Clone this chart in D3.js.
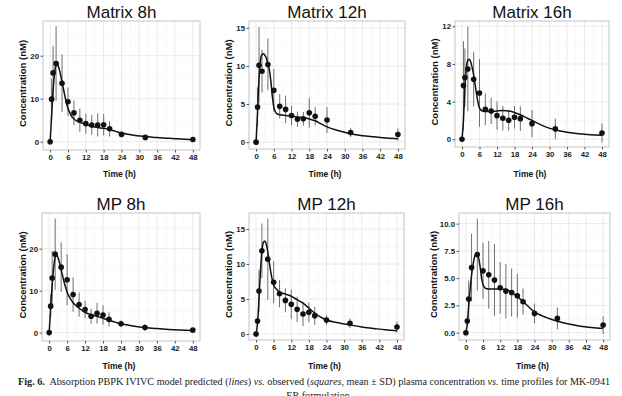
<!DOCTYPE html>
<html>
<head>
<meta charset="utf-8">
<script src="https://cdn.jsdelivr.net/npm/d3@7"></script>
<style>
  html, body { margin: 0; padding: 0; background: #fff; }
  svg { display: block; }
</style>
</head>
<body>
<svg id="chart" width="622" height="396"></svg>
<script>
// ---------------- DATA ----------------
const titles = ["Matrix 8h", "Matrix 12h", "Matrix 16h", "MP 8h", "MP 12h", "MP 16h"];
const obsTime = [0, 0.5, 1, 2, 4, 6, 8, 10, 12, 14, 16, 18, 20, 24, 32, 48];
const modelTime = [0, 0.5, 1, 1.5, 2, 2.5, 3, 3.5, 4, 4.5, 5, 5.5, 6, 7, 8, 10, 12, 14, 16, 18, 20, 22, 24, 28, 32, 36, 40, 44, 48];
const xTicks = [0, 6, 12, 18, 24, 30, 36, 42, 48];

const matrix8hMean  = [0, 9.9, 16, 18.2, 13.6, 9.3, 6.7, 5.0, 4.2, 3.9, 3.9, 3.95, 3.0, 1.7, 1.0, 0.5];
const matrix8hSD    = [0, 4.8, 6.3, 8.7, 6.7, 3.3, 2.9, 2.7, 2.3, 2.3, 2.7, 2.5, 1.8, 0.5, 0.5, 0.3];
const matrix8hModel = [0, 6, 12, 16, 17.8, 18, 17, 15.6, 13.8, 12.2, 10.5, 9.0, 7.8, 6.2, 5.3, 4.5, 4.0, 3.6, 3.3, 3.1, 2.8, 2.4, 2.0, 1.5, 1.2, 0.95, 0.8, 0.6, 0.45];

const matrix12hMean  = [0, 4.6, 10.1, 9.3, 10.2, 6.8, 4.7, 4.3, 3.5, 3.0, 3.06, 3.85, 3.4, 2.9, 1.27, 1.0];
const matrix12hSD    = [0, 2.6, 5.0, 2.8, 3.4, 2.8, 1.6, 1.8, 1.3, 1.0, 0.9, 1.95, 1.2, 1.7, 0.6, 0.8];
const matrix12hModel = [0, 4, 8.5, 10.8, 11.5, 11.6, 11.4, 11.0, 10.2, 9.5, 8.0, 6.0, 4.6, 3.75, 3.6, 3.5, 3.4, 3.3, 3.2, 3.05, 2.8, 2.4, 2.0, 1.5, 1.1, 0.85, 0.7, 0.55, 0.45];

const matrix16hMean  = [0, 5.7, 6.55, 7.47, 6.37, 4.92, 3.19, 3.0, 2.51, 2.23, 2.02, 2.34, 2.19, 1.66, 1.1, 0.67];
const matrix16hSD    = [0, 4.7, 3.1, 4.5, 2.9, 3.6, 1.7, 1.4, 1.5, 1.3, 1.1, 1.2, 1.3, 1.45, 1.1, 1.0];
const matrix16hModel = [0, 2, 5.5, 7.6, 8.4, 8.5, 8.2, 7.6, 6.8, 5.8, 4.8, 3.9, 3.3, 3.0, 2.95, 2.95, 3.0, 3.05, 3.0, 2.85, 2.6, 2.3, 2.0, 1.4, 1.0, 0.75, 0.58, 0.47, 0.42];

const mp8hMean  = [0, 6.3, 13.0, 18.7, 15.6, 12.6, 9.06, 6.7, 5.5, 3.9, 4.6, 4.2, 3.15, 2.1, 1.2, 0.6];
const mp8hSD    = [0, 2.8, 6.5, 8.5, 5.9, 6.1, 4.1, 2.9, 2.1, 1.8, 2.5, 2.3, 1.7, 0.8, 0.8, 0.4];
const mp8hModel = [0, 6, 11.5, 15.5, 18, 18.5, 17.8, 16.5, 15, 13.5, 12, 10.8, 9.6, 8.2, 7.1, 5.8, 4.8, 4.3, 3.9, 3.4, 2.9, 2.5, 2.1, 1.6, 1.2, 0.95, 0.75, 0.6, 0.45];

const mp12hMean  = [0, 1.86, 6.14, 11.9, 10.7, 7.4, 5.76, 4.8, 4.24, 3.52, 2.86, 3.1, 2.62, 2.0, 1.52, 1.0];
const mp12hSD    = [0, 0.6, 3.0, 3.9, 5.8, 3.0, 1.95, 1.7, 2.1, 1.8, 1.75, 1.4, 1.3, 0.7, 0.7, 0.8];
const mp12hModel = [0, 1.5, 5, 9, 11.8, 13.1, 13.3, 12.8, 11.7, 10.3, 8.9, 7.8, 7.0, 6.4, 6.0, 5.7, 5.4, 4.9, 4.4, 3.7, 3.0, 2.4, 2.0, 1.6, 1.3, 1.0, 0.8, 0.6, 0.48];

const mp16hMean  = [0, 1.07, 3.08, 5.98, 7.16, 5.67, 5.3, 4.82, 4.12, 3.81, 3.69, 3.38, 2.84, 1.77, 1.31, 0.7];
const mp16hSD    = [0, 0.4, 1.7, 3.1, 3.3, 2.56, 3.1, 3.3, 2.36, 2.5, 2.2, 2.0, 1.2, 0.9, 1.0, 0.8];
const mp16hModel = [0, 0.8, 2.5, 4.0, 5.3, 6.2, 6.9, 7.2, 7.2, 6.8, 6.0, 5.0, 4.4, 4.05, 4.0, 4.0, 4.0, 3.95, 3.7, 3.3, 2.85, 2.35, 1.9, 1.4, 1.05, 0.8, 0.6, 0.48, 0.4];

const yTicks8  = [0, 10, 20];
const yTicks12 = [0, 5, 10, 15];
const yTicks16m = [0, 4, 8, 12];
const yTicks16p = [0, 2.5, 5, 7.5, 10];

const xLabel = "Time (h)";
const yLabel = "Concentration (nM)";
const captionLine1 = [
  ["Fig. 6.", "bold", "normal"],
  ["\u00a0 Absorption PBPK IVIVC model predicted (", "normal", "normal"],
  ["lines", "normal", "italic"],
  [") ", "normal", "normal"],
  ["vs.", "normal", "italic"],
  [" observed (", "normal", "normal"],
  ["squares", "normal", "italic"],
  [", mean \u00b1 SD) plasma concentration ", "normal", "normal"],
  ["vs.", "normal", "italic"],
  [" time profiles for MK-0941", "normal", "normal"]
];
const captionLine2 = "ER formulation";

// ---------------- LAYOUT ----------------
const panels = [
  { title: titles[0], mean: matrix8hMean, sd: matrix8hSD, model: matrix8hModel, yDom: [-1.93, 28.07], yTicks: yTicks8, fmt: d3.format("d"),
    box: [43, 21, 200, 150], ylabX: 22 },
  { title: titles[1], mean: matrix12hMean, sd: matrix12hSD, model: matrix12hModel, yDom: [-0.9, 15.9], yTicks: yTicks12, fmt: d3.format("d"),
    box: [249, 21, 405, 149], ylabX: 228 },
  { title: titles[2], mean: matrix16hMean, sd: matrix16hSD, model: matrix16hModel, yDom: [-0.82, 12.56], yTicks: yTicks16m, fmt: d3.format("d"),
    box: [455, 21, 609, 147], ylabX: 434 },
  { title: titles[3], mean: mp8hMean, sd: mp8hSD, model: mp8hModel, yDom: [-2.0, 28.5], yTicks: yTicks8, fmt: d3.format("d"),
    box: [42, 213, 200, 341], ylabX: 22 },
  { title: titles[4], mean: mp12hMean, sd: mp12hSD, model: mp12hModel, yDom: [-0.86, 17.3], yTicks: yTicks12, fmt: d3.format("d"),
    box: [249, 213, 404, 340], ylabX: 228 },
  { title: titles[5], mean: mp16hMean, sd: mp16hSD, model: mp16hModel, yDom: [-0.67, 10.97], yTicks: yTicks16p, fmt: d3.format(".1f"),
    box: [459, 213, 610, 340], ylabX: 433 }
];

const svg = d3.select("#chart");
const sans = "'Liberation Sans', Arial, sans-serif";

panels.forEach((p, i) => {
  const [x0, y0, x1, y1] = p.box;
  const row = i < 3 ? 0 : 1;
  const x = d3.scaleLinear().domain([-2.4, 50.4]).range([x0, x1]);
  const y = d3.scaleLinear().domain(p.yDom).range([y1, y0]);
  const g = svg.append("g");

  g.append("rect").attr("x", x0).attr("y", y0).attr("width", x1 - x0).attr("height", y1 - y0)
    .attr("fill", "#fff");

  // minor grid
  const xMinor = xTicks.slice(0, -1).map((d, k) => (d + xTicks[k + 1]) / 2);
  const yStep = p.yTicks[1] - p.yTicks[0];
  const yMinor = [];
  for (let v = p.yTicks[0] - yStep / 2; v <= p.yDom[1]; v += yStep) if (v >= p.yDom[0]) yMinor.push(v);
  g.selectAll(".gxm").data(xMinor).join("line")
    .attr("x1", d => x(d)).attr("x2", d => x(d)).attr("y1", y0).attr("y2", y1)
    .attr("stroke", "#f3f3f3").attr("stroke-width", 0.6);
  g.selectAll(".gym").data(yMinor).join("line")
    .attr("x1", x0).attr("x2", x1).attr("y1", d => y(d)).attr("y2", d => y(d))
    .attr("stroke", "#f3f3f3").attr("stroke-width", 0.6);
  // major grid
  g.selectAll(".gx").data(xTicks).join("line")
    .attr("x1", d => x(d)).attr("x2", d => x(d)).attr("y1", y0).attr("y2", y1)
    .attr("stroke", "#e8e8e8").attr("stroke-width", 0.9);
  g.selectAll(".gy").data(p.yTicks).join("line")
    .attr("x1", x0).attr("x2", x1).attr("y1", d => y(d)).attr("y2", d => y(d))
    .attr("stroke", "#e8e8e8").attr("stroke-width", 0.9);

  // error bars
  const obs = obsTime.map((t, k) => ({ t, m: p.mean[k], s: p.sd[k] }));
  g.selectAll(".eb").data(obs.filter(d => d.s > 0)).join("line")
    .attr("x1", d => x(d.t)).attr("x2", d => x(d.t))
    .attr("y1", d => y(d.m - d.s)).attr("y2", d => y(d.m + d.s))
    .attr("stroke", "#6e6e6e").attr("stroke-width", 1);

  // model line
  const line = d3.line().x(d => x(d[0])).y(d => y(d[1])).curve(d3.curveMonotoneX);
  g.append("path").datum(modelTime.map((t, k) => [t, p.model[k]]))
    .attr("d", line).attr("fill", "none").attr("stroke", "#111").attr("stroke-width", 1.5);

  // points
  g.selectAll(".pt").data(obs).join("circle")
    .attr("cx", d => x(d.t)).attr("cy", d => y(d.m)).attr("r", 2.8).attr("fill", "#111");

  // border
  g.append("rect").attr("x", x0).attr("y", y0).attr("width", x1 - x0).attr("height", y1 - y0)
    .attr("fill", "none").attr("stroke", "#bdbdbd").attr("stroke-width", 0.9);

  // axes
  const xa = g.append("g").attr("transform", `translate(0,${y1})`)
    .call(d3.axisBottom(x).tickValues(xTicks).tickSize(2.5).tickPadding(1.5).tickFormat(d3.format("d")));
  const ya = g.append("g").attr("transform", `translate(${x0},0)`)
    .call(d3.axisLeft(y).tickValues(p.yTicks).tickSize(2.5).tickPadding(1.5).tickFormat(p.fmt));
  [xa, ya].forEach(a => {
    a.select(".domain").remove();
    a.selectAll(".tick line").attr("stroke", "#444").attr("stroke-width", 0.9);
    a.selectAll(".tick text").attr("fill", "#1a1a1a").style("font-family", sans)
      .style("font-size", "7.8px").style("font-weight", "bold");
  });

  // title
  g.append("text").attr("x", (x0 + x1) / 2).attr("y", row === 0 ? 18 : 210)
    .attr("text-anchor", "middle").style("font-family", sans).style("font-size", "17px")
    .attr("fill", "#111").text(p.title);

  // x label
  g.append("text").attr("x", (x0 + x1) / 2 - 2).attr("y", row === 0 ? 177 : 369)
    .attr("text-anchor", "middle").style("font-family", sans).style("font-size", "8.5px")
    .style("font-weight", "bold").attr("fill", "#111").text(xLabel);

  // y label
  g.append("text").attr("transform", `translate(${p.ylabX + 3.5},${(y0 + y1) / 2 - 2}) rotate(-90)`)
    .attr("text-anchor", "middle").style("font-family", sans).style("font-size", "9.5px")
    .style("font-weight", "bold").attr("fill", "#111").text(yLabel);
});

// caption
const serif = "'Liberation Serif', 'Times New Roman', serif";
const cap = svg.append("text").attr("x", 18).attr("y", 385)
  .style("font-family", serif).style("font-size", "10.2px").attr("fill", "#222");
captionLine1.forEach(([t, w, s]) => cap.append("tspan").style("font-weight", w).style("font-style", s).text(t));
svg.append("text").attr("x", 318).attr("y", 399).attr("text-anchor", "middle")
  .style("font-family", serif).style("font-size", "10.2px").attr("fill", "#222")
  .text(captionLine2);
</script>
</body>
</html>
